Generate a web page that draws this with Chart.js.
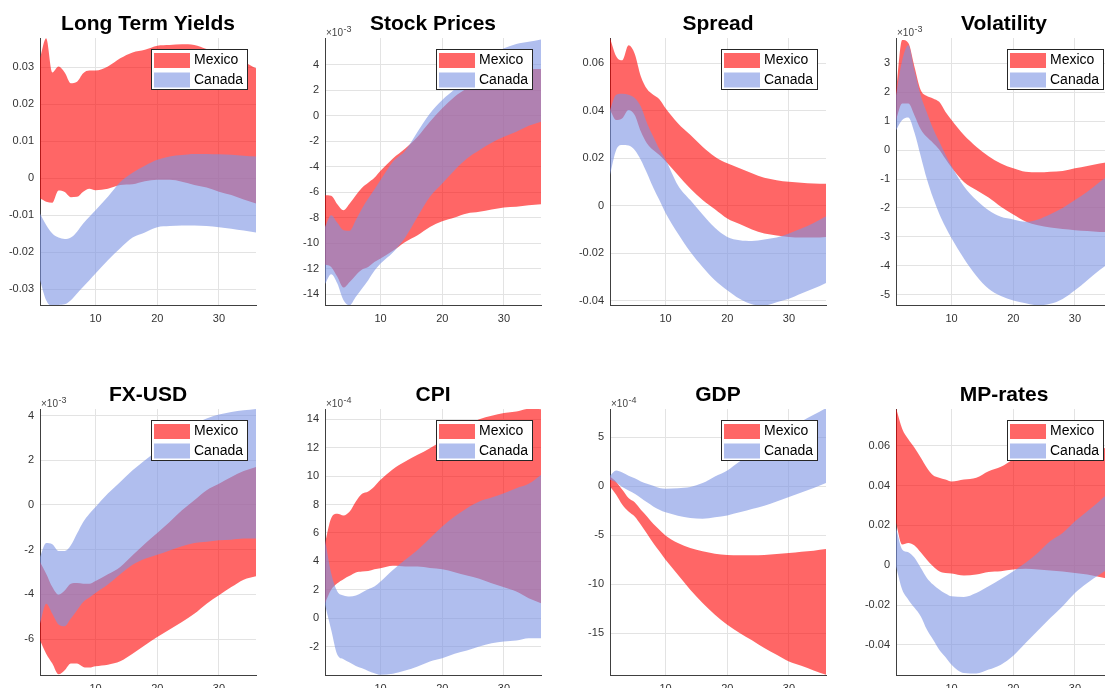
<!DOCTYPE html>
<html>
<head>
<meta charset="utf-8">
<script src="https://cdn.jsdelivr.net/npm/chart.js@4.4.1/dist/chart.umd.min.js"></script>
<style>
  html, body { margin: 0; padding: 0; background: #fff; width: 1105px; height: 688px; overflow: hidden; position: relative; }
  canvas { position: absolute; }
</style>
</head>
<body>
<script>
// Impulse-response bands (lower / upper) for Mexico and Canada, by horizon.
const horizon = [1, 2, 3, 4, 5, 6, 7, 8, 9, 10, 12, 14, 16, 18, 20, 22, 24, 26, 28, 30, 32, 34, 36];
const countries = ['Mexico', 'Canada'];
const xTicks = [10, 20, 30];

// Long Term Yields
const ltyMexHi = [0.0324, 0.0378, 0.0286, 0.0302, 0.0286, 0.0257, 0.0261, 0.0284, 0.0291, 0.0291, 0.0302, 0.0324, 0.0340, 0.0347, 0.0358, 0.0360, 0.0362, 0.0360, 0.0349, 0.0338, 0.0327, 0.0315, 0.0297];
const ltyMexLo = [-0.0054, -0.0063, -0.0066, -0.0033, -0.0037, -0.0051, -0.0050, -0.0036, -0.0028, -0.0032, -0.0028, -0.0018, -0.0016, -0.0008, -0.0004, -0.0004, -0.0009, -0.0018, -0.0025, -0.0036, -0.0045, -0.0057, -0.0068];
const ltyCanHi = [-0.0095, -0.0126, -0.0149, -0.0160, -0.0164, -0.0160, -0.0144, -0.0122, -0.0104, -0.0086, -0.0050, -0.0010, 0.0015, 0.0034, 0.0050, 0.0059, 0.0063, 0.0066, 0.0066, 0.0065, 0.0064, 0.0061, 0.0059];
const ltyCanLo = [-0.0275, -0.0329, -0.0345, -0.0342, -0.0340, -0.0329, -0.0311, -0.0293, -0.0275, -0.0257, -0.0221, -0.0189, -0.0160, -0.0146, -0.0132, -0.0129, -0.0127, -0.0127, -0.0129, -0.0132, -0.0136, -0.0141, -0.0146];
const ltyTicks = [-0.03, -0.02, -0.01, 0, 0.01, 0.02, 0.03];

// Stock Prices (x 10^-3)
const stkMexHi = [-6.23, -6.28, -6.94, -7.41, -6.88, -6.23, -5.65, -5.26, -4.87, -4.32, -3.35, -2.57, -1.65, -0.47, 0.58, 1.49, 2.15, 2.67, 3.06, 3.32, 3.51, 3.64, 3.66];
const stkMexLo = [-11.68, -11.86, -12.64, -13.48, -13.04, -12.51, -12.07, -11.86, -11.47, -11.20, -10.60, -9.90, -9.37, -8.72, -8.27, -7.98, -7.67, -7.54, -7.36, -7.20, -7.15, -7.02, -6.94];
const stkCanHi = [-8.72, -7.80, -8.40, -8.98, -9.03, -8.19, -7.28, -6.49, -5.79, -5.05, -3.61, -2.75, -1.26, 0.18, 1.23, 2.07, 2.93, 3.85, 4.76, 5.29, 5.63, 5.81, 5.99];
const stkCanLo = [-13.20, -12.43, -13.17, -14.48, -14.87, -14.21, -13.56, -12.90, -12.17, -11.60, -10.73, -9.55, -7.93, -6.36, -5.31, -4.27, -3.35, -2.70, -2.12, -1.65, -1.26, -0.79, -0.47];
const stkTicks = [-14, -12, -10, -8, -6, -4, -2, 0, 2, 4];

// Spread
const sprMexHi = [0.0707, 0.0630, 0.0613, 0.0676, 0.0641, 0.0545, 0.0492, 0.0468, 0.0449, 0.0411, 0.0348, 0.0299, 0.0249, 0.0207, 0.0179, 0.0158, 0.0137, 0.0118, 0.0108, 0.0101, 0.0097, 0.0094, 0.0093];
const sprMexLo = [0.0404, 0.0362, 0.0369, 0.0404, 0.0383, 0.0313, 0.0263, 0.0235, 0.0214, 0.0188, 0.0130, 0.0073, 0.0024, -0.0015, -0.0054, -0.0077, -0.0100, -0.0117, -0.0125, -0.0131, -0.0134, -0.0134, -0.0131];
const sprCanHi = [0.0404, 0.0468, 0.0472, 0.0468, 0.0454, 0.0418, 0.0348, 0.0292, 0.0238, 0.0195, 0.0087, 0.0024, -0.0037, -0.0093, -0.0131, -0.0145, -0.0148, -0.0142, -0.0134, -0.0117, -0.0096, -0.0072, -0.0044];
const sprCanLo = [0.0130, 0.0235, 0.0256, 0.0254, 0.0235, 0.0193, 0.0137, 0.0077, 0.0024, -0.0030, -0.0117, -0.0194, -0.0258, -0.0314, -0.0356, -0.0392, -0.0415, -0.0420, -0.0406, -0.0392, -0.0370, -0.0349, -0.0325];
const sprTicks = [-0.04, -0.02, 0, 0.02, 0.04, 0.06];

// Volatility (x 10^-3)
const volMexHi = [2.02, 3.81, 3.71, 2.88, 2.08, 1.87, 1.79, 1.67, 1.33, 1.04, 0.52, 0.12, -0.21, -0.46, -0.63, -0.75, -0.77, -0.75, -0.72, -0.63, -0.55, -0.46, -0.40];
const volMexLo = [1.04, 1.61, 1.61, 1.20, 0.72, 0.45, 0.25, 0.02, -0.30, -0.60, -1.10, -1.38, -1.64, -1.96, -2.23, -2.47, -2.60, -2.68, -2.73, -2.77, -2.80, -2.83, -2.83];
const volCanHi = [1.90, 3.10, 3.63, 2.75, 1.90, 1.30, 0.75, 0.30, -0.15, -0.55, -1.25, -1.73, -2.08, -2.31, -2.40, -2.48, -2.40, -2.22, -2.00, -1.73, -1.44, -1.10, -0.80];
const volCanLo = [0.69, 1.04, 1.13, 0.60, -0.20, -1.00, -1.65, -2.20, -2.65, -3.05, -3.75, -4.35, -4.80, -5.05, -5.20, -5.30, -5.37, -5.32, -5.15, -4.85, -4.50, -4.15, -3.85];
const volTicks = [-5, -4, -3, -2, -1, 0, 1, 2, 3];

// FX-USD (x 10^-3)
const fxMexHi = [-2.55, -3.07, -3.67, -4.01, -3.82, -3.52, -3.49, -3.52, -3.52, -3.40, -3.10, -2.77, -2.25, -1.73, -1.25, -0.76, -0.24, 0.21, 0.66, 0.95, 1.25, 1.52, 1.70];
const fxMexLo = [-6.05, -6.65, -7.09, -7.57, -7.39, -7.09, -7.09, -7.24, -7.27, -7.21, -7.14, -6.99, -6.65, -6.27, -5.90, -5.57, -5.23, -4.86, -4.41, -4.04, -3.67, -3.34, -3.19];
const fxCanHi = [-2.32, -1.70, -1.76, -2.06, -2.06, -1.80, -1.28, -0.76, -0.39, -0.09, 0.51, 1.03, 1.55, 2.00, 2.44, 2.89, 3.26, 3.61, 3.86, 4.04, 4.16, 4.23, 4.29];
const fxCanLo = [-5.30, -4.41, -4.86, -5.34, -5.42, -5.08, -4.71, -4.34, -4.14, -3.93, -3.56, -3.10, -2.67, -2.40, -2.22, -2.03, -1.85, -1.70, -1.64, -1.58, -1.55, -1.50, -1.50];
const fxTicks = [-6, -4, -2, 0, 2, 4];

// CPI (x 10^-4)
const cpiMexHi = [5.28, 7.04, 7.35, 7.23, 7.51, 8.22, 8.76, 8.92, 9.27, 9.74, 10.49, 11.03, 11.50, 11.97, 12.51, 13.03, 13.62, 14.01, 14.25, 14.44, 14.55, 14.74, 14.72];
const cpiMexLo = [1.06, 2.00, 2.46, 2.75, 2.98, 3.22, 3.29, 3.33, 3.45, 3.52, 3.69, 3.64, 3.64, 3.54, 3.45, 3.24, 3.00, 2.77, 2.46, 2.18, 1.88, 1.41, 1.06];
const cpiCanHi = [5.52, 3.17, 1.88, 1.60, 1.53, 1.60, 1.81, 2.04, 2.23, 2.58, 3.40, 4.11, 4.81, 5.63, 6.46, 7.16, 7.75, 8.22, 8.50, 8.80, 9.15, 9.46, 10.09];
const cpiCanLo = [0.94, -0.82, -2.58, -2.89, -3.12, -3.36, -3.52, -3.71, -3.87, -3.99, -3.92, -3.69, -3.40, -3.05, -2.82, -2.51, -2.28, -2.00, -1.76, -1.64, -1.57, -1.41, -1.41];
const cpiTicks = [-2, 0, 2, 4, 6, 8, 10, 12, 14];

// GDP (x 10^-4)
const gdpMexHi = [1.00, 0.45, -0.35, -1.19, -1.63, -2.38, -3.06, -3.81, -4.42, -5.00, -5.78, -6.29, -6.63, -6.87, -7.01, -7.04, -7.04, -7.01, -6.90, -6.80, -6.67, -6.56, -6.39];
const gdpMexLo = [0.00, -0.85, -1.87, -2.55, -3.06, -3.91, -4.83, -5.78, -6.63, -7.48, -9.01, -10.54, -11.90, -13.10, -14.12, -14.97, -15.71, -16.50, -17.18, -17.86, -18.30, -18.78, -19.22];
const gdpCanHi = [1.09, 1.63, 1.43, 1.09, 0.82, 0.51, 0.27, 0.07, -0.17, -0.24, -0.20, -0.07, 0.34, 1.02, 1.63, 2.55, 3.23, 4.08, 4.93, 5.78, 6.63, 7.31, 7.99];
const gdpCanLo = [0.68, 0.41, -0.07, -0.41, -0.75, -1.19, -1.63, -2.04, -2.38, -2.65, -2.99, -3.23, -3.30, -3.16, -2.96, -2.65, -2.31, -1.97, -1.53, -1.09, -0.61, -0.17, 0.34];
const gdpTicks = [-15, -10, -5, 0, 5];

// MP-rates
const mpMexHi = [0.0790, 0.0685, 0.0632, 0.0590, 0.0540, 0.0489, 0.0451, 0.0439, 0.0430, 0.0420, 0.0430, 0.0439, 0.0472, 0.0494, 0.0531, 0.0564, 0.0581, 0.0590, 0.0595, 0.0598, 0.0595, 0.0590, 0.0585];
const mpMexLo = [0.0213, 0.0104, 0.0112, 0.0099, 0.0065, 0.0028, -0.0005, -0.0030, -0.0039, -0.0042, -0.0052, -0.0047, -0.0034, -0.0030, -0.0022, -0.0018, -0.0022, -0.0027, -0.0032, -0.0039, -0.0047, -0.0059, -0.0072];
const mpCanHi = [0.0188, 0.0079, 0.0065, 0.0037, -0.0013, -0.0064, -0.0097, -0.0122, -0.0142, -0.0156, -0.0159, -0.0139, -0.0106, -0.0069, -0.0030, 0.0012, 0.0062, 0.0121, 0.0162, 0.0221, 0.0271, 0.0322, 0.0380];
const mpCanLo = [-0.0005, -0.0122, -0.0173, -0.0214, -0.0256, -0.0323, -0.0373, -0.0424, -0.0461, -0.0499, -0.0541, -0.0544, -0.0524, -0.0499, -0.0454, -0.0390, -0.0328, -0.0265, -0.0206, -0.0139, -0.0089, -0.0047, -0.0005];
const mpTicks = [-0.04, -0.02, 0, 0.02, 0.04, 0.06];

const panels = [
  { title: 'Long Term Yields', exp: null, mex: [ltyMexLo, ltyMexHi], can: [ltyCanLo, ltyCanHi], yMin: -0.0342, yMax: 0.0379, yTicks: ltyTicks },
  { title: 'Stock Prices',     exp: -3,   mex: [stkMexLo, stkMexHi], can: [stkCanLo, stkCanHi], yMin: -14.85,  yMax: 6.1,    yTicks: stkTicks },
  { title: 'Spread',           exp: null, mex: [sprMexLo, sprMexHi], can: [sprCanLo, sprCanHi], yMin: -0.0418, yMax: 0.0707, yTicks: sprTicks },
  { title: 'Volatility',       exp: -3,   mex: [volMexLo, volMexHi], can: [volCanLo, volCanHi], yMin: -5.36,   yMax: 3.88,   yTicks: volTicks },
  { title: 'FX-USD',           exp: -3,   mex: [fxMexLo, fxMexHi],   can: [fxCanLo, fxCanHi],   yMin: -7.6,    yMax: 4.29,   yTicks: fxTicks },
  { title: 'CPI',              exp: -4,   mex: [cpiMexLo, cpiMexHi], can: [cpiCanLo, cpiCanHi], yMin: -4.0,    yMax: 14.73,  yTicks: cpiTicks },
  { title: 'GDP',              exp: -4,   mex: [gdpMexLo, gdpMexHi], can: [gdpCanLo, gdpCanHi], yMin: -19.25,  yMax: 7.9,    yTicks: gdpTicks },
  { title: 'MP-rates',         exp: null, mex: [mpMexLo, mpMexHi],   can: [mpCanLo, mpCanHi],   yMin: -0.0551, yMax: 0.0784, yTicks: mpTicks }
];

// Layout of the 2 x 4 grid of axes
const FONT = "'Liberation Sans', Arial, Helvetica, sans-serif";
const COL_LEFT = [40, 325, 610, 896];
const ROW_TOP = [38, 409];
const ROW_PLOT_H = [267, 266];
const PLOT_W = 216;
const AXIS_W = 45;
const TITLE_H = 38;
const XAXIS_H = 30;
const PAD_R = 14;

const MEX_FILL = 'rgba(255, 0, 0, 0.6)';
const CAN_FILL = 'rgba(123, 147, 227, 0.6)';
const GRID = '#e3e3e3';
const AXIS = '#404040';
const TICK = '#333333';

const fmtTick = v => (Math.abs(v) < 1e-12 ? '0' : String(+v.toFixed(4)));

// Boxed legend in the upper right corner plus the "x10^n" axis multiplier
const decorPlugin = {
  id: 'panelDecor',
  afterDraw(chart, args, opts) {
    const { ctx, chartArea: ca } = chart;
    ctx.save();
    if (opts.exp !== null && opts.exp !== undefined) {
      ctx.fillStyle = '#444';
      ctx.textBaseline = 'alphabetic';
      ctx.textAlign = 'left';
      ctx.font = '10px ' + FONT;
      ctx.fillText('\u00d710', ca.left + 1, ca.top - 2.3);
      const w = ctx.measureText('\u00d710').width;
      ctx.font = '9px ' + FONT;
      ctx.fillText(String(opts.exp), ca.left + 1.5 + w, ca.top - 6);
    }
    const bw = 96, bh = 40;
    const x0 = Math.round(ca.right - 9 - bw), y0 = Math.round(ca.top + 11);
    ctx.fillStyle = '#fff';
    ctx.fillRect(x0, y0, bw, bh);
    ctx.strokeStyle = '#262626';
    ctx.lineWidth = 1;
    ctx.strokeRect(x0 + 0.5, y0 + 0.5, bw, bh);
    const fills = [MEX_FILL, CAN_FILL];
    ctx.font = '14px ' + FONT;
    ctx.textBaseline = 'middle';
    ctx.textAlign = 'left';
    countries.forEach((name, k) => {
      const sy = y0 + 4 + k * 19.5;
      ctx.fillStyle = fills[k];
      ctx.fillRect(x0 + 3, sy, 36, 15);
      ctx.fillStyle = '#000';
      ctx.fillText(name, x0 + 43, sy + 7.5);
    });
    ctx.restore();
  }
};

function makePanel(p, i) {
  const row = Math.floor(i / 4), col = i % 4;
  const canvas = document.createElement('canvas');
  canvas.width = AXIS_W + PLOT_W + PAD_R;
  canvas.height = TITLE_H + ROW_PLOT_H[row] + XAXIS_H;
  canvas.style.left = (COL_LEFT[col] - AXIS_W) + 'px';
  canvas.style.top = (ROW_TOP[row] - TITLE_H) + 'px';
  document.body.appendChild(canvas);

  const pts = arr => horizon.map((x, k) => ({ x: x, y: arr[k] }));
  const band = (name, lo, hi, color) => ([
    { label: name, data: pts(hi), fill: '+1', backgroundColor: color },
    { label: name, data: pts(lo), fill: false, backgroundColor: color }
  ]);

  new Chart(canvas, {
    type: 'line',
    data: {
      // Canada first so that its band is painted over Mexico's
      datasets: [
        ...band(countries[1], p.can[0], p.can[1], CAN_FILL),
        ...band(countries[0], p.mex[0], p.mex[1], MEX_FILL)
      ]
    },
    options: {
      responsive: false,
      animation: false,
      devicePixelRatio: 1,
      layout: { padding: { left: 0, right: PAD_R, top: 0, bottom: 0 } },
      elements: {
        point: { radius: 0, hoverRadius: 0 },
        line: { borderWidth: 0, cubicInterpolationMode: 'monotone', capBezierPoints: false }
      },
      plugins: {
        legend: { display: false },
        tooltip: { enabled: false },
        title: {
          display: true, text: p.title, fullSize: false, color: '#000',
          font: { family: FONT, size: 21, weight: 'bold', lineHeight: '25px' },
          padding: { top: 12, bottom: 1 }
        },
        panelDecor: { exp: p.exp }
      },
      scales: {
        x: {
          type: 'linear', min: 1, max: 36,
          afterBuildTicks: s => { s.ticks = xTicks.map(v => ({ value: v })); },
          afterFit: s => { s.height = XAXIS_H; },
          grid: { color: GRID, lineWidth: 1, drawTicks: false },
          border: { color: AXIS, width: 1 },
          ticks: { autoSkip: false, maxRotation: 0, padding: 7, color: TICK, font: { family: FONT, size: 11 } }
        },
        y: {
          type: 'linear', min: p.yMin, max: p.yMax,
          afterBuildTicks: s => { s.ticks = p.yTicks.map(v => ({ value: v })); },
          afterFit: s => { s.width = AXIS_W; },
          grid: { color: GRID, lineWidth: 1, drawTicks: false },
          border: { color: AXIS, width: 1 },
          ticks: { autoSkip: false, padding: 6, color: TICK, font: { family: FONT, size: 11 }, callback: v => fmtTick(v) }
        }
      }
    },
    plugins: [decorPlugin]
  });
}

panels.forEach(makePanel);
</script>
</body>
</html>
